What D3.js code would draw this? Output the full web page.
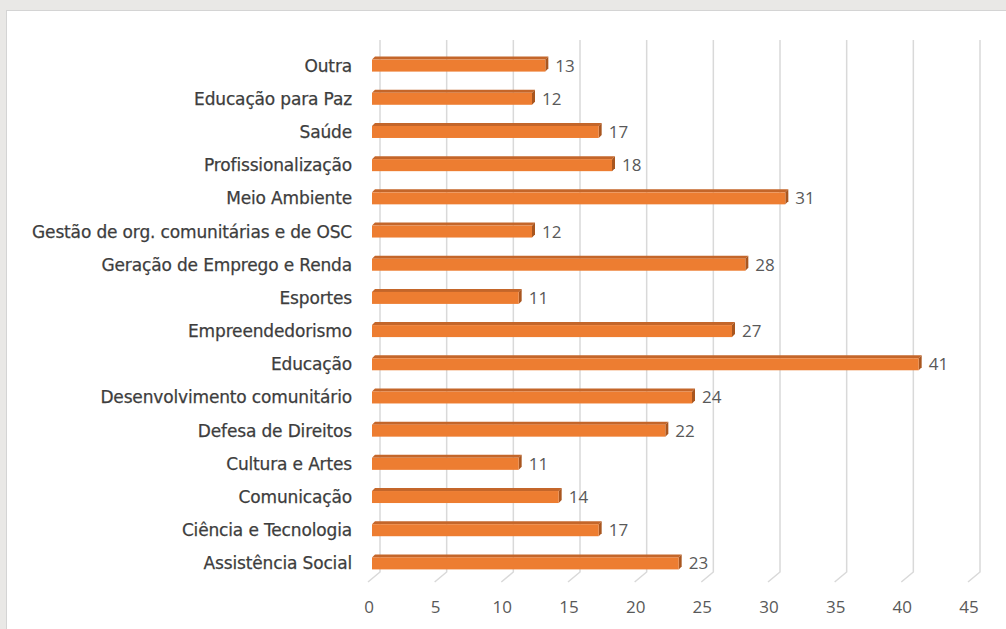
<!DOCTYPE html>
<meta charset="utf-8">
<style>
html, body { margin: 0; padding: 0; background: #e9e8e6; }
svg { display: block; }
.cat { font-family: 'DejaVu Sans', Verdana, sans-serif; font-size: 17px; fill: #3d3d3d; stroke: #3d3d3d; stroke-width: 0.25px; letter-spacing: -0.15px; }
.val, .tick text { font-family: 'Open Sans', 'Noto Sans', sans-serif; font-size: 17px; fill: #595959; }
</style>
<script src="https://cdn.jsdelivr.net/npm/d3@7"></script>
<body>
<script>
var categories = ["Outra", "Educação para Paz", "Saúde", "Profissionalização", "Meio Ambiente",
  "Gestão de org. comunitárias e de OSC", "Geração de Emprego e Renda", "Esportes",
  "Empreendedorismo", "Educação", "Desenvolvimento comunitário", "Defesa de Direitos",
  "Cultura e Artes", "Comunicação", "Ciência e Tecnologia", "Assistência Social"];
var values = [13, 12, 17, 18, 31, 12, 28, 11, 27, 41, 24, 22, 11, 14, 17, 23];
var ticks = [0, 5, 10, 15, 20, 25, 30, 35, 40, 45];

var W = 1006, H = 629;
var dx = 8; // 3D depth offset of the back wall

var svg = d3.select('body').append('svg')
  .attr('width', W)
  .attr('height', H);

// white panel
svg.append('rect')
  .attr('x', 6.5).attr('y', 10.5)
  .attr('width', W).attr('height', H)
  .attr('fill', '#fff')
  .attr('stroke', '#d4d4d4');

var x = d3.scaleLinear().domain([0, 45]).range([372, 972]);
var y = d3.scaleBand().domain(categories).range([47.5, 578.5]);

// gridlines on the back wall, with the floor diagonal
var grid = svg.append('g');
ticks.forEach(function(t) {
  var xb = x(t) + dx;
  grid.append('path')
    .attr('d', 'M' + xb + ',40 V572 L' + (xb - 12) + ',582')
    .attr('fill', 'none')
    .attr('stroke', '#d9d9d9')
    .attr('stroke-width', 1.5);
});

// tick labels
var axis = svg.append('g').attr('class', 'tick');
axis.selectAll('text')
  .data(ticks).enter()
  .append('text')
  .attr('x', function(d) { return x(d) - 3; })
  .attr('y', 613)
  .attr('text-anchor', 'middle')
  .text(function(d) { return d; });

// bars (front face + top + side)
var bh = 12, depth = 3;
var bars = svg.append('g');
var rows = bars.selectAll('g')
  .data(categories).enter()
  .append('g');

rows.each(function(c, i) {
  var g = d3.select(this);
  var x0 = x(0), x1 = x(values[i]);
  var yt = y(c) + y.bandwidth() / 2 - bh / 2 + depth / 2;
  // top face
  g.append('path')
    .attr('d', 'M' + x0 + ',' + yt + ' L' + (x0 + depth) + ',' + (yt - depth) +
      ' H' + (x1 + depth) + ' L' + x1 + ',' + yt + 'Z')
    .attr('fill', '#c4662a');
  // side face
  g.append('path')
    .attr('d', 'M' + x1 + ',' + yt + ' L' + (x1 + depth) + ',' + (yt - depth) +
      ' V' + (yt - depth + bh) + ' L' + x1 + ',' + (yt + bh) + 'Z')
    .attr('fill', '#a9561f');
  // front face
  g.append('rect')
    .attr('x', x0).attr('y', yt)
    .attr('width', x1 - x0).attr('height', bh)
    .attr('fill', '#ed7d31');
  // value label
  g.append('text')
    .attr('class', 'val')
    .attr('x', x1 + 10)
    .attr('y', yt + bh / 2 + 6)
    .text(values[i]);
  // category label
  g.append('text')
    .attr('class', 'cat')
    .attr('x', 352)
    .attr('y', yt + bh / 2 + 6)
    .attr('text-anchor', 'end')
    .text(c);
});
</script>
</body>
